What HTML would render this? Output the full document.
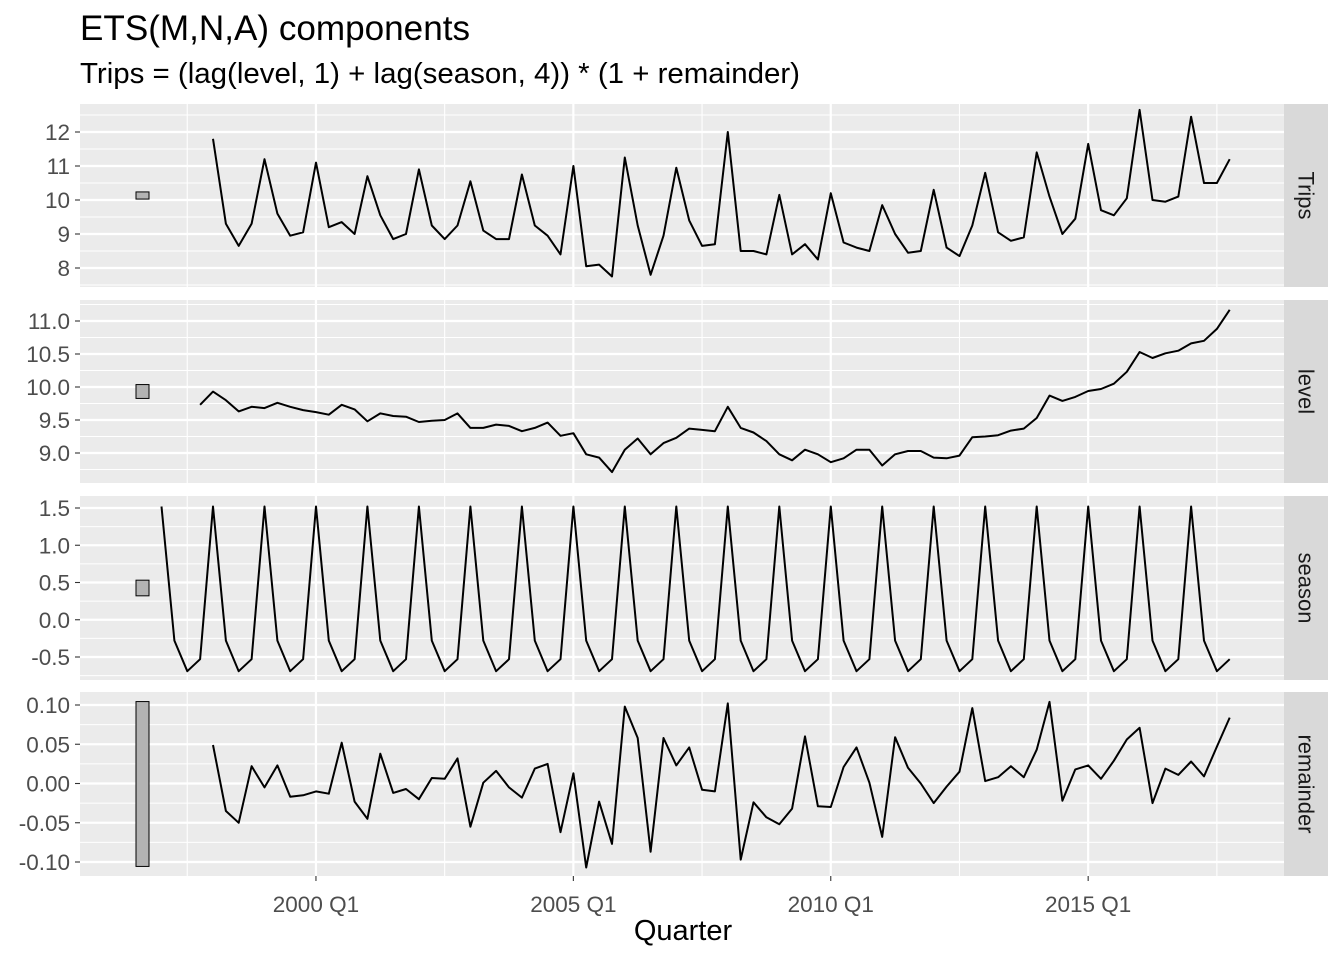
<!DOCTYPE html>
<html><head><meta charset="utf-8"><style>
html,body{margin:0;padding:0;background:#fff;}
svg{display:block;font-family:"Liberation Sans",Arial,sans-serif;}
</style></head><body>
<svg id="chart" width="1344" height="960" viewBox="0 0 1344 960" xmlns="http://www.w3.org/2000/svg">
<rect width="1344" height="960" fill="#fff"/>
<text x="80" y="40" font-size="35" textLength="390" lengthAdjust="spacingAndGlyphs" fill="#000">ETS(M,N,A) components</text>
<text x="80" y="83" font-size="28.5" textLength="720" lengthAdjust="spacingAndGlyphs" fill="#000">Trips = (lag(level, 1) + lag(season, 4)) * (1 + remainder)</text>
<text x="683" y="940" font-size="29" text-anchor="middle" fill="#000">Quarter</text>
<g id="plots"></g>
</svg>
<script>
const trips = [11.8,9.3,8.65,9.3, 11.2,9.6,8.95,9.05, 11.1,9.2,9.35,9.0, 10.7,9.55,8.85,9.0, 10.9,9.25,8.85,9.25, 10.55,9.1,8.85,8.85, 10.75,9.25,8.95,8.4, 11.0,8.05,8.1,7.75, 11.25,9.25,7.8,8.95, 10.95,9.4,8.65,8.7, 12.0,8.5,8.5,8.4, 10.15,8.4,8.7,8.25, 10.2,8.75,8.6,8.5, 9.85,9.0,8.45,8.5, 10.3,8.6,8.35,9.25, 10.8,9.05,8.8,8.9, 11.4,10.1,9.0,9.45, 11.65,9.7,9.55,10.05, 12.65,10.0,9.95,10.1, 12.45,10.5,10.5,11.2];
const level = [9.73,9.93,9.8,9.63,9.7,9.68,9.76,9.7,9.65,9.62, 9.58,9.73,9.66,9.48,9.6,9.56,9.55,9.47,9.49,9.5, 9.6,9.38,9.38,9.43,9.41,9.33,9.38,9.46,9.26,9.3, 8.98,8.93,8.71,9.05,9.22,8.98,9.15,9.23,9.37,9.35, 9.33,9.7,9.38,9.31,9.18,8.98,8.89,9.05,8.98,8.86, 8.92,9.05,9.05,8.81,8.98,9.03,9.03,8.93,8.92,8.96, 9.24,9.25,9.27,9.34,9.37,9.53,9.87,9.79,9.85,9.94, 9.97,10.05,10.23,10.53,10.44,10.51,10.55,10.66,10.7,10.88,11.17];
const seasonPattern = [1.52,-0.28,-0.69,-0.53];
const remainder = [0.049,-0.035,-0.05,0.022,-0.005,0.023,-0.017,-0.015,-0.01,-0.013, 0.052,-0.023,-0.045,0.038,-0.012,-0.007,-0.02,0.007,0.006,0.032, -0.055,0.001,0.016,-0.005,-0.018,0.019,0.025,-0.062,0.013,-0.107, -0.023,-0.077,0.098,0.058,-0.087,0.058,0.023,0.046,-0.008,-0.01, 0.102,-0.097,-0.024,-0.043,-0.052,-0.032,0.06,-0.029,-0.03,0.021, 0.046,0.001,-0.068,0.059,0.02,0.0,-0.025,-0.004,0.015,0.096, 0.003,0.008,0.022,0.008,0.043,0.104,-0.022,0.018,0.023,0.006, 0.029,0.056,0.071,-0.025,0.019,0.011,0.028,0.009,0.047,0.084];
const xTickLabels = ["2000 Q1","2005 Q1","2010 Q1","2015 Q1"];
const xTickIdx = [8,28,48,68];
const tripsTicks = ["8","9","10","11","12"];
const levelTicks = ["9.0","9.5","10.0","10.5","11.0"];
const seasonTicks = ["-0.5","0.0","0.5","1.0","1.5"];
const remTicks = ["-0.10","-0.05","0.00","0.05","0.10"];
const scaleBarRange = 0.21;

const NS="http://www.w3.org/2000/svg";
const root=document.getElementById('plots');
function mk(tag,attrs,parent){const e=document.createElementNS(NS,tag);for(const k in attrs)e.setAttribute(k,attrs[k]);(parent||root).appendChild(e);return e;}
const PX0=80, PX1=1284;
function xScale(i){return 213+12.87*i;}

const panels=[
 {name:'trips',top:104,bot:287,v0:8,y0:268,v1:12,y1:132,ticks:tripsTicks,series:trips,start:0,step:1},
 {name:'level',top:300,bot:483,v0:9,y0:453,v1:11,y1:321,ticks:levelTicks,series:level,start:-1,step:0.5},
 {name:'season',top:496,bot:680,v0:-0.5,y0:657,v1:1.5,y1:508,ticks:seasonTicks,series:null,start:-4,step:0.5},
 {name:'remainder',top:692,bot:876,v0:-0.1,y0:862,v1:0.1,y1:705,ticks:remTicks,series:remainder,start:0,step:0.05}
];
const season=[];for(let i=0;i<84;i++)season.push(seasonPattern[i%4]);
panels[2].series=season;

panels.forEach((p,pi)=>{
 const yS=v=>p.y0+(v-p.v0)*(p.y1-p.y0)/(p.v1-p.v0);
 const g=mk('g',{});
 
 
 const bg=mk('rect',{x:PX0,y:p.top,width:PX1-PX0,height:p.bot-p.top,fill:'#ebebeb'},g);
 
 
 const vTop=p.v0+(p.top-p.y0)*(p.v1-p.v0)/(p.y1-p.y0), vBot=p.v0+(p.bot-p.y0)*(p.v1-p.v0)/(p.y1-p.y0);
 const lo=Math.min(vTop,vBot), hi=Math.max(vTop,vBot);
 for(let k=-10;k<=30;k++){
  const v=p.v0+k*p.step/2; if(v<lo||v>hi)continue;
  const y=yS(v); const major=k%2===0;
  const l=mk('line',{x1:PX0,x2:PX1,y1:y,y2:y,stroke:'#fff','stroke-width':major?2.2:1.1},g);
  
  
 }
 for(let i=-2;i<=80;i+=10){
  const x=xScale(i); const major=(i-8)%20===0;
  const l=mk('line',{x1:x,x2:x,y1:p.top,y2:p.bot,stroke:'#fff','stroke-width':major?2.2:1.1},g);
  
  
 }
 p.ticks.forEach((t,k)=>{
  const y=yS(parseFloat(t));
  const tk=mk('line',{x1:75,x2:80,y1:y,y2:y,stroke:'#333','stroke-width':1.1},g);
  
  
  const tx=mk('text',{x:70,y:y+8,'font-size':22.5,'text-anchor':'end',fill:'#4d4d4d'},g);
  tx.textContent=t;
  
  
 });
 const mid=(p.top+p.bot)/2, vMid=p.v0+(mid-p.y0)*(p.v1-p.v0)/(p.y1-p.y0);
 const ya=yS(vMid+scaleBarRange/2), yb=yS(vMid-scaleBarRange/2);
 const sb=mk('rect',{x:136,y:Math.min(ya,yb),width:13,height:Math.abs(yb-ya),fill:'#b3b3b3',stroke:'#000','stroke-width':1},g);
 
 
 const pts=p.series.map((v,i)=>xScale(i+p.start).toFixed(1)+','+yS(v).toFixed(1)).join(' ');
 const pl=mk('polyline',{points:pts,fill:'none',stroke:'#000','stroke-width':2,'stroke-linejoin':'round'},g);
 
 
 const st=mk('rect',{x:1284,y:p.top,width:44,height:p.bot-p.top,fill:'#d9d9d9'},g);
 
 
 const sy=(p.top+p.bot)/2;
 const stx=mk('text',{x:1306,y:sy,'font-size':22,'text-anchor':'middle',fill:'#1a1a1a',transform:'rotate(90 1306 '+sy+')','dominant-baseline':'central'},g);
 stx.textContent=p.name==='trips'?'Trips':p.name;
 
 
});
xTickIdx.forEach((i,k)=>{
 const x=xScale(i);
 const tk=mk('line',{x1:x,x2:x,y1:876,y2:881,stroke:'#333','stroke-width':1.1});
 
 
 const tx=mk('text',{x:x,y:912,'font-size':22.5,'text-anchor':'middle',fill:'#4d4d4d'});
 tx.textContent=xTickLabels[k];
 
 
});
</script>
</body></html>
